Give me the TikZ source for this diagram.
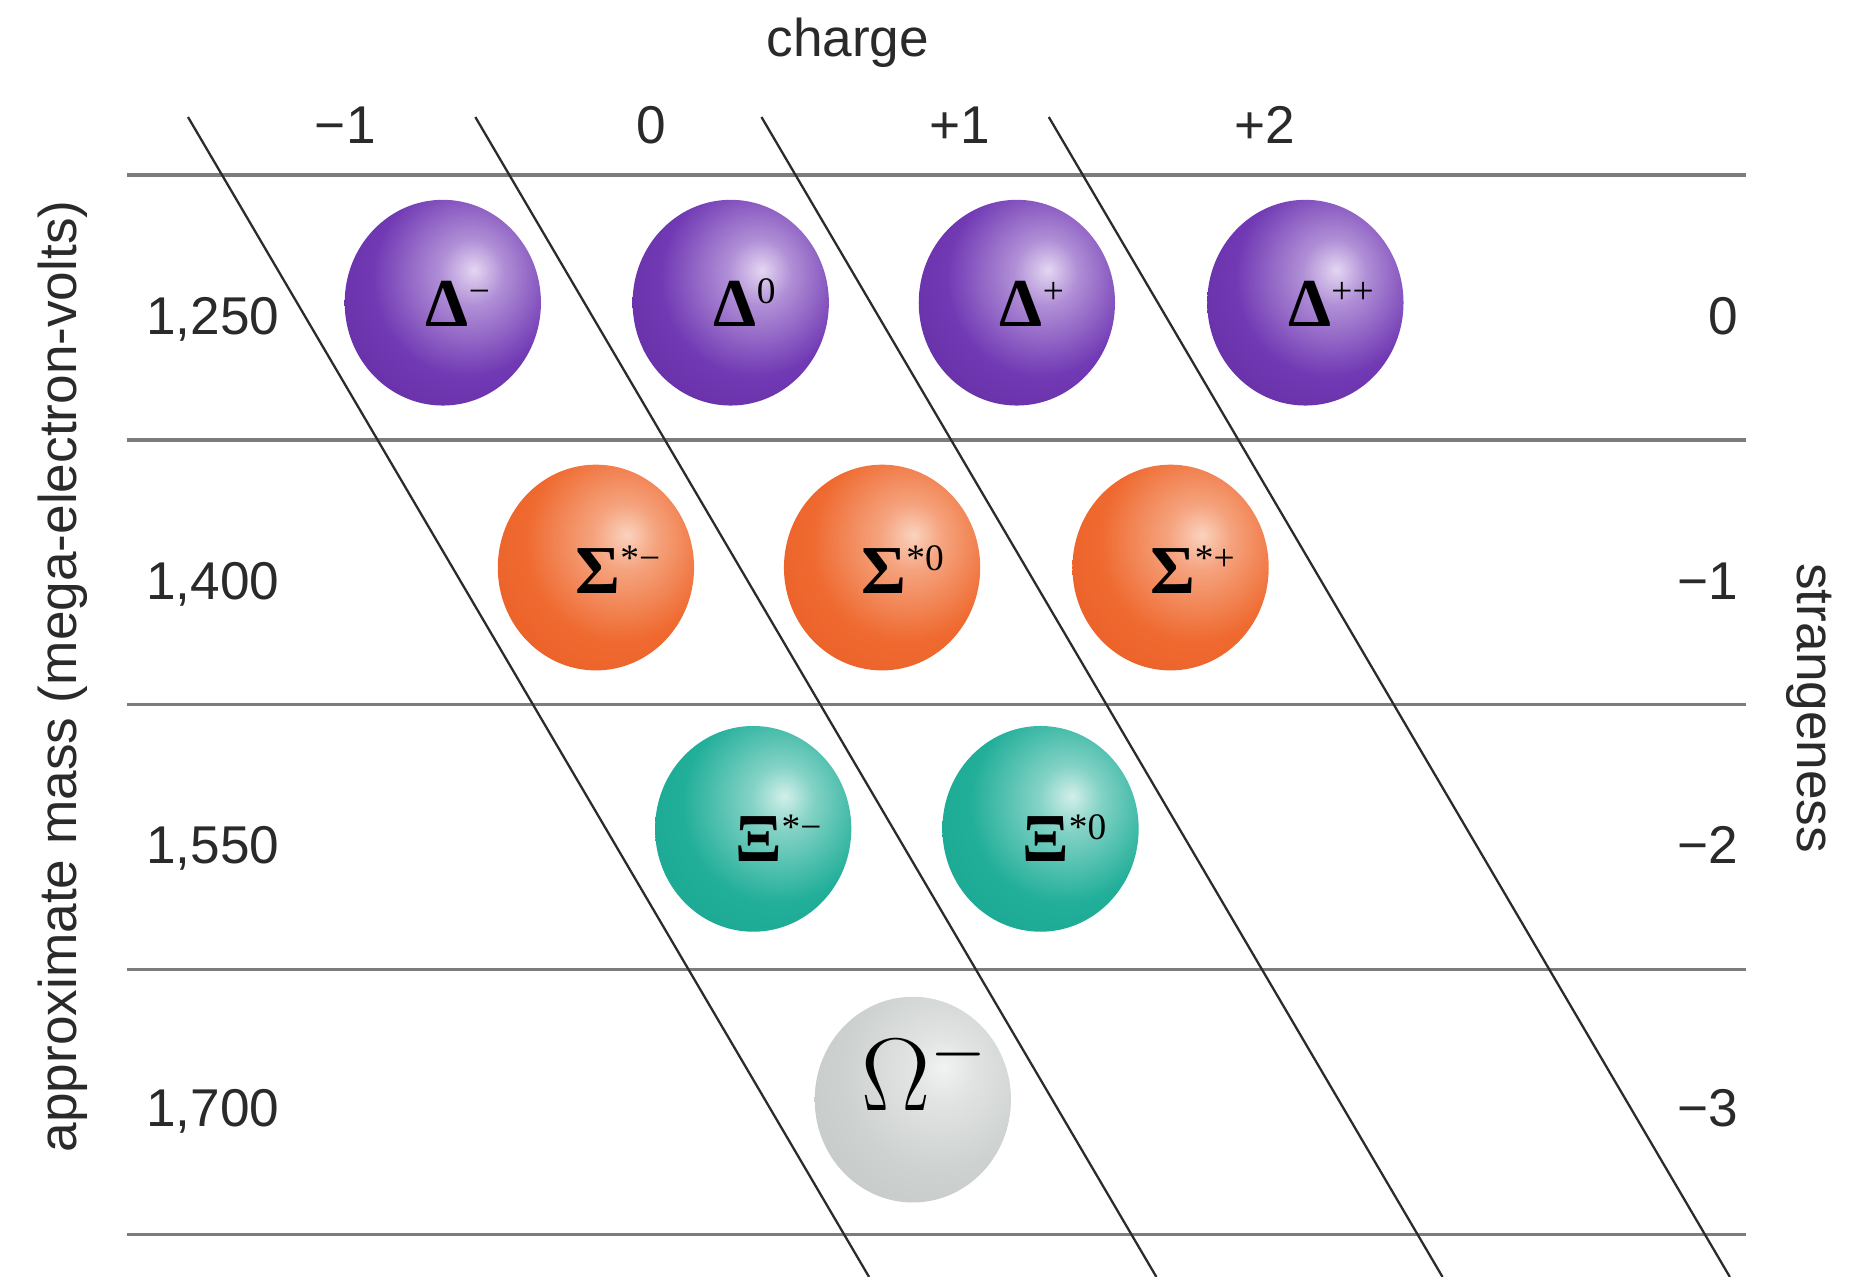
\documentclass[tikz,border=0pt]{standalone}
\usepackage{fontspec}
\usetikzlibrary{shapes.geometric}
\newfontfamily\axisfont{Liberation Sans}
\newfontfamily\ballfont{Liberation Serif}
\newcommand{\ballsup}[1]{\raisebox{5.5pt}{\mdseries\fontsize{9}{10}\selectfont #1}}
\definecolor{gridink}{HTML}{2B2B2B}
\definecolor{gridrule}{HTML}{7C7C7C}
\definecolor{axisink}{HTML}{2A2A2A}
\definecolor{deltadark}{HTML}{55208F}
\definecolor{deltamid}{HTML}{7139B4}
\definecolor{deltalight}{HTML}{E4D6F2}
\definecolor{sigmadark}{HTML}{E5511B}
\definecolor{sigmamid}{HTML}{EF6A30}
\definecolor{sigmalight}{HTML}{FAD2BE}
\definecolor{xidark}{HTML}{0F9E89}
\definecolor{ximid}{HTML}{22AF9A}
\definecolor{xilight}{HTML}{D2EFE9}
\definecolor{omegadark}{HTML}{BABFBE}
\definecolor{omegamid}{HTML}{CDD1D0}
\definecolor{omegalight}{HTML}{F1F3F2}
\pgfdeclareradialshading{deltashade}{\pgfpoint{8bp}{8bp}}{%
  color(0bp)=(deltalight); color(8bp)=(deltalight!55!deltamid);
  color(24bp)=(deltamid); color(40bp)=(deltamid!50!deltadark);
  color(56bp)=(deltadark); color(100bp)=(deltadark)}
\pgfdeclareradialshading{sigmashade}{\pgfpoint{8bp}{8bp}}{%
  color(0bp)=(sigmalight); color(8bp)=(sigmalight!55!sigmamid);
  color(24bp)=(sigmamid); color(40bp)=(sigmamid!50!sigmadark);
  color(56bp)=(sigmadark); color(100bp)=(sigmadark)}
\pgfdeclareradialshading{xishade}{\pgfpoint{8bp}{8bp}}{%
  color(0bp)=(xilight); color(8bp)=(xilight!55!ximid);
  color(24bp)=(ximid); color(40bp)=(ximid!50!xidark);
  color(56bp)=(xidark); color(100bp)=(xidark)}
\pgfdeclareradialshading{omegashade}{\pgfpoint{8bp}{8bp}}{%
  color(0bp)=(omegalight); color(8bp)=(omegalight!55!omegamid);
  color(24bp)=(omegamid); color(40bp)=(omegamid!50!omegadark);
  color(56bp)=(omegadark); color(100bp)=(omegadark)}
\tikzset{
  charge line/.style={draw=gridink, line width=0.55pt},
  mass rule/.style={draw=gridrule, line width=0.75pt},
  baryon ball/.style={ellipse, minimum width=1.66cm, minimum height=1.74cm,
    inner sep=0pt},
  delta ball/.style={baryon ball, shading=deltashade},
  sigma ball/.style={baryon ball, shading=sigmashade},
  xi ball/.style={baryon ball, shading=xishade},
  omega ball/.style={baryon ball, shading=omegashade},
  ball label/.style={font=\ballfont\bfseries\fontsize{16.5}{18}\selectfont,
    inner sep=0pt, anchor=base west},
  omega label/.style={font=\fontsize{25}{30}\selectfont,
    inner sep=0pt, anchor=base west},
  axis label/.style={font=\axisfont\fontsize{12.8}{15}\selectfont,
    text=axisink, inner sep=0pt},
}

\begin{document}
\begin{tikzpicture}[x=1cm, y=1cm]
  \useasboundingbox (0,0) rectangle (15.68,10.80);

  % Mass rows.
  \coordinate (l1) at (1.07,9.320);
  \coordinate (r1) at (14.77,9.320);
  \coordinate (l2) at (1.07,7.079);
  \coordinate (r2) at (14.77,7.079);
  \coordinate (l3) at (1.07,4.838);
  \coordinate (r3) at (14.77,4.838);
  \coordinate (l4) at (1.07,2.597);
  \coordinate (r4) at (14.77,2.597);
  \coordinate (l5) at (1.07,0.356);
  \coordinate (r5) at (14.77,0.356);
  \draw[mass rule] (l1) -- (r1);
  \draw[mass rule] (l2) -- (r2);
  \draw[mass rule] (l3) -- (r3);
  \draw[mass rule] (l4) -- (r4);
  \draw[mass rule] (l5) -- (r5);

  % Slanted charge lines.
  \coordinate (t1) at (1.59,9.81);
  \coordinate (b1) at (7.35,0);
  \coordinate (t2) at (4.02,9.81);
  \coordinate (b2) at (9.78,0);
  \coordinate (t3) at (6.44,9.81);
  \coordinate (b3) at (12.20,0);
  \coordinate (t4) at (8.87,9.81);
  \coordinate (b4) at (14.63,0);
  \draw[charge line] (t1) -- (b1);
  \draw[charge line] (t2) -- (b2);
  \draw[charge line] (t3) -- (b3);
  \draw[charge line] (t4) -- (b4);

  % Delta row, strangeness 0.
  \node[delta ball] (dminus) at (3.745,8.24) {};
  \node[delta ball] (dzero) at (6.18,8.24) {};
  \node[delta ball] (dplus) at (8.60,8.24) {};
  \node[delta ball] (dplusplus) at (11.04,8.24) {};
  \node[ball label] (dminus label) at ([xshift=-0.15cm, yshift=-0.20cm]dminus.center)
    {Δ\ballsup{−}};
  \node[ball label] (dzero label) at ([xshift=-0.15cm, yshift=-0.20cm]dzero.center)
    {Δ\ballsup{0}};
  \node[ball label] (dplus label) at ([xshift=-0.15cm, yshift=-0.20cm]dplus.center)
    {Δ\ballsup{+}};
  \node[ball label] (dplusplus label) at ([xshift=-0.15cm, yshift=-0.20cm]dplusplus.center)
    {Δ\ballsup{++}};

  % Sigma row, strangeness -1.
  \node[sigma ball] (sminus) at (5.04,6.00) {};
  \node[sigma ball] (szero) at (7.46,6.00) {};
  \node[sigma ball] (splus) at (9.90,6.00) {};
  \node[ball label] (sminus label) at ([xshift=-0.18cm, yshift=-0.22cm]sminus.center)
    {Σ\ballsup{*−}};
  \node[ball label] (szero label) at ([xshift=-0.18cm, yshift=-0.22cm]szero.center)
    {Σ\ballsup{*0}};
  \node[ball label] (splus label) at ([xshift=-0.18cm, yshift=-0.22cm]splus.center)
    {Σ\ballsup{*+}};

  % Xi row, strangeness -2.
  \node[xi ball] (xminus) at (6.37,3.79) {};
  \node[xi ball] (xzero) at (8.80,3.79) {};
  \node[ball label] (xminus label) at ([xshift=-0.16cm, yshift=-0.28cm]xminus.center)
    {Ξ\ballsup{*−}};
  \node[ball label] (xzero label) at ([xshift=-0.16cm, yshift=-0.28cm]xzero.center)
    {Ξ\ballsup{*0}};

  % Omega, strangeness -3.
  \node[omega ball] (omega) at (7.72,1.50) {};
  \node[omega label] (omega label) at ([xshift=-0.44cm, yshift=-0.09cm]omega.center)
    {$\Omega^-$};

  % Charge across the top.
  \node[axis label, anchor=base] (charge) at (7.17,10.32) {charge};
  \node[axis label, anchor=base] (qminus) at (2.92,9.59) {−1};
  \node[axis label, anchor=base] (qzero) at (5.51,9.59) {0};
  \node[axis label, anchor=base] (qplus) at (8.12,9.59) {+1};
  \node[axis label, anchor=base] (qplusplus) at (10.70,9.59) {+2};

  % Mass on the left.
  \node[axis label, rotate=90] (mass) at (0.53,5.08)
    {approximate mass (mega-electron-volts)};
  \node[axis label, anchor=base west] (m1250) at (1.23,7.97) {1,250};
  \node[axis label, anchor=base west] (m1400) at (1.23,5.73) {1,400};
  \node[axis label, anchor=base west] (m1550) at (1.23,3.50) {1,550};
  \node[axis label, anchor=base west] (m1700) at (1.23,1.27) {1,700};

  % Strangeness on the right.
  \node[axis label, rotate=-90] (strangeness) at (15.30,4.81) {strangeness};
  \node[axis label, anchor=base east] (szero num) at (14.71,7.97) {0};
  \node[axis label, anchor=base east] (sone num) at (14.71,5.73) {−1};
  \node[axis label, anchor=base east] (stwo num) at (14.71,3.50) {−2};
  \node[axis label, anchor=base east] (sthree num) at (14.71,1.27) {−3};
\end{tikzpicture}
\end{document}
